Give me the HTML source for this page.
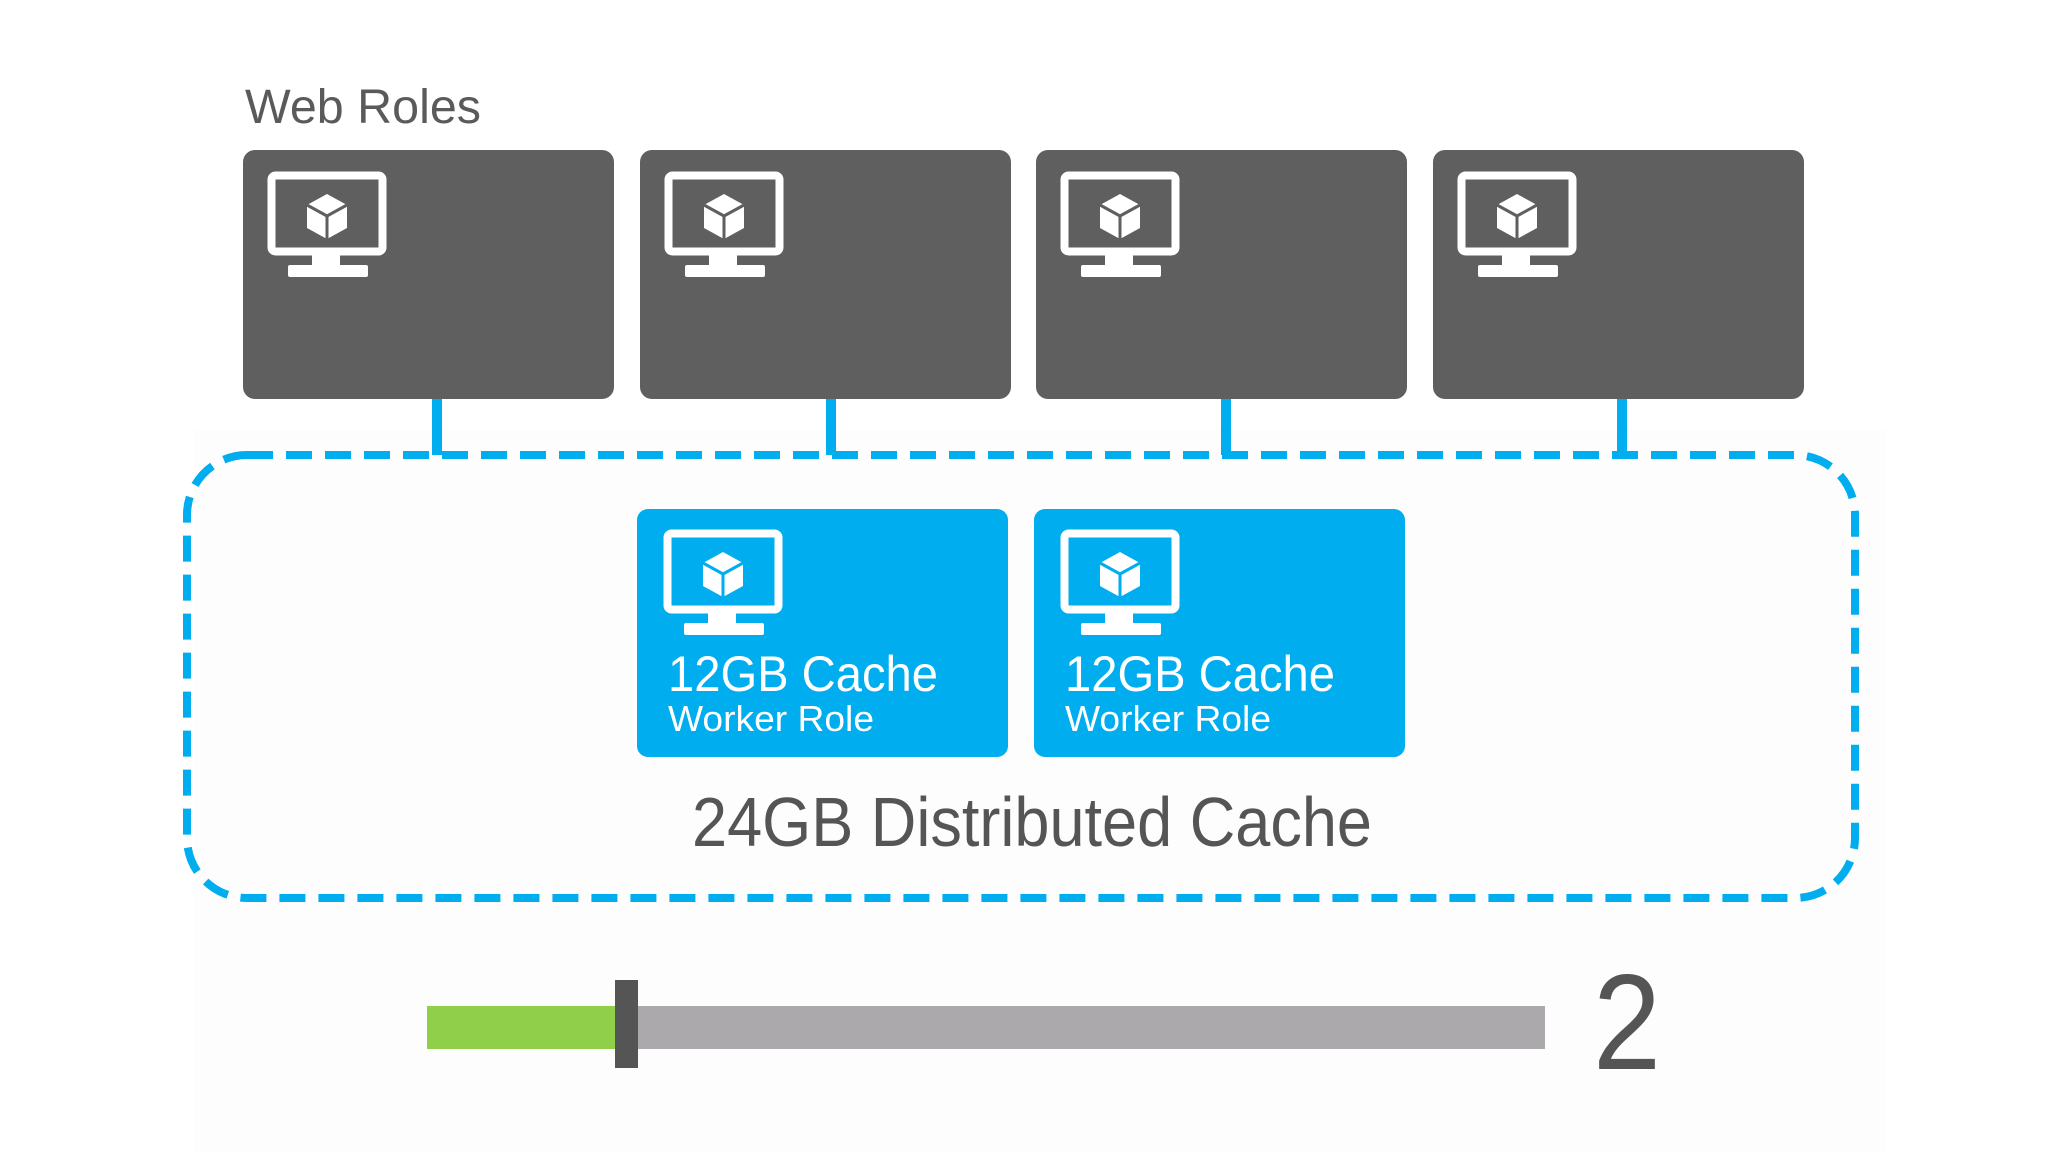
<!DOCTYPE html>
<html><head><meta charset="utf-8"><style>
html,body{margin:0;padding:0;background:#fff;}
svg{display:block;}
text{font-family:"Liberation Sans",sans-serif;}
</style></head><body>
<svg width="2048" height="1152" viewBox="0 0 2048 1152" xmlns="http://www.w3.org/2000/svg">
<defs>
<g id="mon">
  <rect x="3.5" y="3.5" width="111" height="76" rx="4" fill="none" stroke="#fff" stroke-width="8"/>
  <rect x="44" y="80" width="28" height="13" fill="#fff"/>
  <rect x="20" y="93" width="80" height="12" rx="2" fill="#fff"/>
  <g transform="translate(59,44)">
    <polygon points="0,-22 20,-11 20,12 0,23 -20,12 -20,-11" fill="#fff"/>
    <polyline points="-20,-11 0,0 20,-11" fill="none" stroke="currentColor" stroke-width="3"/>
    <line x1="0" y1="0" x2="0" y2="23" stroke="currentColor" stroke-width="3"/>
  </g>
</g>
</defs>
<rect x="195" y="430" width="1690" height="722" fill="#fdfdfd"/>
<text x="245" y="123" font-size="48" fill="#5a5a5a" textLength="236" lengthAdjust="spacingAndGlyphs">Web Roles</text>

<g fill="#5f5f5f">
<rect x="243" y="150" width="371" height="249" rx="12"/>
<rect x="640" y="150" width="371" height="249" rx="12"/>
<rect x="1036" y="150" width="371" height="249" rx="12"/>
<rect x="1433" y="150" width="371" height="249" rx="12"/>
</g>
<g color="#5f5f5f">
<use href="#mon" x="268" y="172"/>
<use href="#mon" x="665" y="172"/>
<use href="#mon" x="1061" y="172"/>
<use href="#mon" x="1458" y="172"/>
</g>

<g stroke="#00aeef" stroke-width="10">
<line x1="437" y1="399" x2="437" y2="455"/>
<line x1="831" y1="399" x2="831" y2="455"/>
<line x1="1226" y1="399" x2="1226" y2="455"/>
<line x1="1622" y1="399" x2="1622" y2="455"/>
</g>
<rect x="187" y="455" width="1668" height="443" rx="60" fill="none" stroke="#00aeef" stroke-width="8" stroke-dasharray="26 13"/>

<g fill="#00adef">
<rect x="637" y="509" width="371" height="248" rx="11"/>
<rect x="1034" y="509" width="371" height="248" rx="11"/>
</g>
<g color="#00adef">
<use href="#mon" x="664" y="530"/>
<use href="#mon" x="1061" y="530"/>
</g>
<g fill="#fff">
<text x="668" y="691" font-size="50" textLength="270" lengthAdjust="spacingAndGlyphs">12GB Cache</text>
<text x="668" y="731" font-size="36" textLength="206" lengthAdjust="spacingAndGlyphs">Worker Role</text>
<text x="1065" y="691" font-size="50" textLength="270" lengthAdjust="spacingAndGlyphs">12GB Cache</text>
<text x="1065" y="731" font-size="36" textLength="206" lengthAdjust="spacingAndGlyphs">Worker Role</text>
</g>
<text x="692" y="846" font-size="70" fill="#555" textLength="680" lengthAdjust="spacingAndGlyphs">24GB Distributed Cache</text>

<rect x="427" y="1006" width="190" height="43" fill="#8fcf4a"/>
<rect x="617" y="1006" width="928" height="43" fill="#aba9ac"/>
<rect x="615" y="980" width="23" height="88" fill="#555"/>
<text x="1593" y="1069" font-size="136" fill="#555" textLength="68" lengthAdjust="spacingAndGlyphs">2</text>
</svg>
</body></html>
